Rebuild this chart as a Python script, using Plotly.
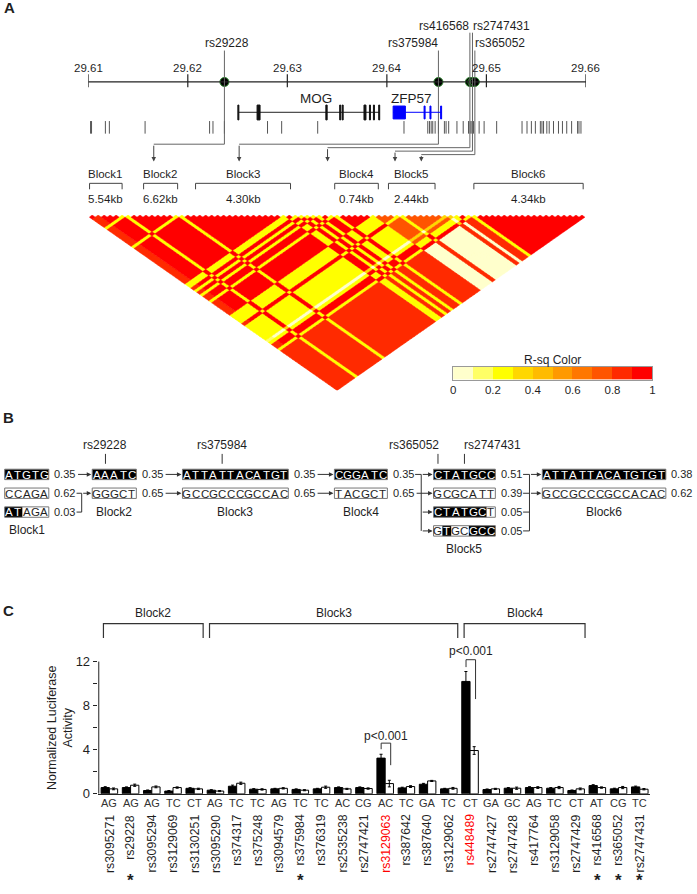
import plotly.graph_objects as go

W, H = 697, 894
FONT = "Liberation Sans, Arial, sans-serif"
INK = "#1f1f1f"
LINE = "#555555"

# ---------------- panel A: region map + LD ----------------
SCALE_TICKS = [29.61, 29.62, 29.63, 29.64, 29.65, 29.66]
KEY_SNPS = ["rs29228", "rs375984", "rs416568", "rs2747431", "rs365052"]
KEY_POS = [29.62368, 29.64518, 29.64834, 29.64860, 29.64884]
KEY_LD_COL = [10.8, 25.1, 39.9, 51.2, 55.6]

SNP_TICKS = [29.61023, 29.61033, 29.61172, 29.61212, 29.61571, 29.62219, 29.62253, 29.62368,
             29.62801, 29.62943, 29.63305, 29.64172, 29.64411, 29.64428, 29.64445, 29.64461,
             29.64485, 29.64518, 29.64578, 29.64595, 29.64621, 29.64704, 29.64767, 29.64820,
             29.64837, 29.64854, 29.64870, 29.64927, 29.64977, 29.65103, 29.65358, 29.65408,
             29.65452, 29.65492, 29.65542, 29.65558, 29.65574, 29.65607, 29.65631, 29.65674,
             29.65724, 29.65764, 29.65807, 29.65856, 29.65916, 29.65930, 29.65950]

MOG_SPAN = [29.62508, 29.63923]
MOG_EXONS = [(29.62503, 29.62513), (29.62696, 29.62726), (29.63387, 29.63400),
             (29.63526, 29.63536), (29.63551, 29.63561), (29.63770, 29.63790),
             (29.63825, 29.63835), (29.63865, 29.63875), (29.63918, 29.63928)]
ZFP57_SPAN = [29.64063, 29.64545]
ZFP57_EXONS = [(29.64063, 29.64186), (29.64374, 29.64384), (29.64433, 29.64443),
               (29.64540, 29.64550)]
GENES = ["MOG", "ZFP57"]
GENE_LABEL_POS = [29.63292, 29.64246]

LD_BLOCKS = ["Block1", "Block2", "Block3", "Block4", "Block5", "Block6"]
LD_BLOCK_KB = ["5.54kb", "6.62kb", "4.30kb", "0.74kb", "2.44kb", "4.34kb"]
LD_BLOCK_SPAN = [(0.05, 5.5), (9.1, 14.8), (17.8, 33.7), (41.1, 48.4), (50.1, 57.9), (64.4, 82.7)]

# haplotype group of each SNP in the LD plot, and r-squared between groups
LD_GROUPS = ("AA" "MMMM" "Y" "MMMMMMMM" "Y" "MMMMMMMMMMMMMMMMM" "YYMY" "M" "Y" "MM" "Y"
             "MMMMMM" "ZZZZMZZZZZZZ" "P" "Z" "MM" "Y" "NNNNNNNNNNNNNNNNNNN")
R2_PAIRS = {"AA": 1.0, "AM": 0.85, "AN": 0.85, "AP": 0.1, "AY": 0.2, "AZ": 0.25,
            "MM": 1.0, "MN": 0.85, "MP": 0.05, "MY": 0.25, "MZ": 0.25,
            "NN": 1.0, "NP": 0.85, "NY": 0.25, "NZ": 0.05,
            "PP": 1.0, "PY": 0.3, "PZ": 0.3,
            "YY": 1.0, "YZ": 0.9, "ZZ": 0.75}

RSQ_KEY = [0.05, 0.15, 0.25, 0.35, 0.45, 0.55, 0.65, 0.75, 0.85, 0.95]
RSQ_COLORS = ["#ffffcc", "#ffff66", "#ffff00", "#ffd700", "#ffbb00",
              "#ff9900", "#ff7700", "#ff5500", "#ff2a00", "#ff0000"]

# ---------------- panel B: haplotypes ----------------
HAP_BLOCKS = ["Block1", "Block2", "Block3", "Block4", "Block5", "Block6"]
HAPS = [["ATGTG", "CCAGA", "ATAGA"],
        ["AAATC", "GGGCT"],
        ["ATTATTACATGT", "GCCGCCCGCCAC"],
        ["CGGATC", "TACGCT"],
        ["CTATGCC", "GCGCATT", "CTATGCT", "GTGCGCC"],
        ["ATTATTACATGTGT", "GCCGCCCGCCACAC"]]
HAP_DARK = [["11111", "00000", "11000"],
            ["11111", "00000"],
            ["111111111111", "000000000000"],
            ["111111", "000000"],
            ["1111111", "0000000", "1111110", "0100111"],
            ["11111111111111", "00000000000000"]]
HAP_FREQ = [[0.35, 0.62, 0.03], [0.35, 0.65], [0.35, 0.65], [0.35, 0.65],
            [0.51, 0.39, 0.05, 0.05], [0.38, 0.62]]
HAP_LINKS = [[(0, 0), (1, 1), (2, 1)],
             [(0, 0), (1, 1)],
             [(0, 0), (1, 1)],
             [(0, 0), (1, 1), (0, 2), (0, 3)],
             [(0, 0), (0, 1), (1, 1), (2, 1), (3, 1)]]
HAP_TAGS = [("rs29228", 1, 1), ("rs375984", 2, 4), ("rs365052", 4, 0), ("rs2747431", 4, 3)]

# ---------------- panel C: luciferase ----------------
LUC_SNPS = ["rs3095271", "rs29228", "rs3095294", "rs3129069", "rs3130251", "rs3095290",
            "rs374317", "rs375248", "rs3094579", "rs375984", "rs376319", "rs2535238",
            "rs2747421", "rs3129063", "rs387642", "rs387640", "rs3129062", "rs448489",
            "rs2747427", "rs2747428", "rs417764", "rs3129058", "rs2747429", "rs416568",
            "rs365052", "rs2747431"]
LUC_ALLELES = ["AG", "AG", "AG", "TC", "CT", "AG", "TC", "TC", "AG", "TC", "TC", "AC", "CG",
               "AC", "TC", "GA", "TC", "CT", "GA", "GC", "AG", "TC", "CT", "AT", "CG", "TC"]
LUC_BLACK = [0.57, 0.57, 0.30, 0.25, 0.50, 0.33, 0.69, 0.42, 0.45, 0.40, 0.45, 0.57, 0.57,
             3.24, 0.54, 0.87, 0.45, 10.2, 0.39, 0.51, 0.57, 0.51, 0.30, 0.75, 0.45, 0.63]
LUC_WHITE = [0.45, 0.78, 0.63, 0.57, 0.45, 0.25, 0.96, 0.40, 0.50, 0.33, 0.60, 0.45, 0.48,
             0.93, 0.66, 1.17, 0.50, 3.93, 0.45, 0.51, 0.57, 0.57, 0.45, 0.57, 0.57, 0.42]
LUC_BLACK_ERR = [0.08, 0.06, 0.05, 0.05, 0.06, 0.05, 0.10, 0.05, 0.05, 0.05, 0.05, 0.06, 0.06,
                 0.35, 0.06, 0.08, 0.05, 0.90, 0.05, 0.06, 0.08, 0.06, 0.05, 0.08, 0.06, 0.07]
LUC_WHITE_ERR = [0.08, 0.10, 0.08, 0.06, 0.06, 0.05, 0.10, 0.06, 0.06, 0.05, 0.10, 0.05, 0.06,
                 0.30, 0.08, 0.05, 0.08, 0.35, 0.05, 0.10, 0.08, 0.10, 0.08, 0.06, 0.10, 0.06]
LUC_STAR = ["rs29228", "rs375984", "rs416568", "rs365052", "rs2747431"]
LUC_RED = ["rs3129063", "rs448489"]
LUC_BLOCKS = [("Block2", 0, 4), ("Block3", 5, 16), ("Block4", 17, 22)]
P_TESTS = [("rs3129063", "p<0.001"), ("rs448489", "p<0.001")]

# ---------------- geometry (pixels) ----------------
GX0, GX1 = 86, 588            # genomic scale
LX0, LX1, LY0, LY1 = 87, 587, 217, 394   # LD triangle
N = len(LD_GROUPS)
KEY_LABEL_Y = [43.5, 43.5, 26, 26, 43.5]
KEY_ANCHOR = ["center", "right", "right", "left", "left"]
KEY_LINE_TOP = [51, 51, 33, 33, 51]
KEY_ELBOW = [145.5, 145.5, 149, 152.5, 156]
HX0 = [1.7, 90, 181, 334.3, 434.3, 544]
HROW = [478.7, 497.7, 516.7, 535.7]
PITCH, BOXH = 8.9, 10.5
CX0, CSTEP, CY0, CUNIT = 107.3, 21.4, 801, 11.12
P_BRACKET = [(4.6, 4.05, 2.6, 5.25), (12.17, 11.5, 8.6, 13.0)]


def mb_px(v):
    return GX0 + (v - SCALE_TICKS[0]) / (SCALE_TICKS[-1] - SCALE_TICKS[0]) * (GX1 - GX0)


def ld_px(i):
    return LX0 + i / (N - 1) * (LX1 - LX0)


fig = go.Figure()


def text(x, y, s, size=12, anchor="center", xref="x", yref="y", color=INK, **kw):
    fig.add_annotation(x=x, y=y, xref=xref, yref=yref, text=s, showarrow=False,
                       font=dict(family=FONT, size=size, color=color),
                       xanchor=anchor, yanchor="middle", **kw)


def seg(x0, y0, x1, y1, color=LINE, width=1, xref="x", yref="y"):
    fig.add_shape(type="line", x0=x0, y0=y0, x1=x1, y1=y1, xref=xref, yref=yref,
                  line=dict(color=color, width=width))


def arrow(x, y, ax, ay, color="#333"):
    fig.add_annotation(x=x, y=y, ax=ax, ay=ay, xref="x", yref="y", axref="x", ayref="y",
                       text="", showarrow=True, arrowhead=2, arrowsize=0.9, arrowwidth=1,
                       arrowcolor=color, standoff=0)


# invisible canvas trace so the pixel axes exist
fig.add_trace(go.Scatter(x=[0, W], y=[0, H], mode="markers", marker=dict(opacity=0),
                         hoverinfo="skip", xaxis="x", yaxis="y"))

# ---------- panel A ----------
text(7, 8, "<b>A</b>", size=15)
seg(SCALE_TICKS[0], 82.7, SCALE_TICKS[-1], 82.7, color="#222", width=1.3, xref="x2")
for t in SCALE_TICKS:
    seg(t, 75, t, 88, color="#222", width=1.2, xref="x2")
    text(t, 68.3, f"{t:.2f}", size=11.5, xref="x2")

for name, pos, col, ly, anc, top, elb in zip(KEY_SNPS, KEY_POS, KEY_LD_COL, KEY_LABEL_Y,
                                            KEY_ANCHOR, KEY_LINE_TOP, KEY_ELBOW):
    px = mb_px(pos)
    lx = px + {"center": 2.5, "right": 1.5, "left": -1.5}[anc]
    text(lx, ly, name, size=12, anchor=anc)
    seg(px, top, px, elb, color="#666")
    seg(px, elb, ld_px(col), elb, color="#666")
    arrow(ld_px(col), 163, ld_px(col), elb, color="#444")

fig.add_trace(go.Scatter(x=KEY_POS, y=[82.7] * len(KEY_POS), mode="markers",
                         marker=dict(color="black", size=9, line=dict(color="#2e8b2e", width=1)),
                         hoverinfo="skip", xaxis="x2", yaxis="y"))
fig.add_trace(go.Scatter(x=SNP_TICKS, y=[128.5] * len(SNP_TICKS), mode="markers",
                         marker=dict(symbol="line-ns", size=9, line=dict(color="#555", width=1)),
                         hoverinfo="skip", xaxis="x2", yaxis="y"))

seg(MOG_SPAN[0], 113.3, MOG_SPAN[1], 113.3, color="#222", width=1, xref="x2")
for a, b in MOG_EXONS:
    fig.add_shape(type="rect", x0=a, x1=b, y0=106, y1=121, xref="x2", yref="y",
                  fillcolor="#111", line=dict(color="#111", width=1))
seg(ZFP57_SPAN[0], 113.3, ZFP57_SPAN[1], 113.3, color="#0000ff", width=1, xref="x2")
for a, b in ZFP57_EXONS:
    fig.add_shape(type="rect", x0=a, x1=b, y0=107, y1=120, xref="x2", yref="y",
                  fillcolor="#0000ff", line=dict(color="#0000ff", width=1))
for g, p in zip(GENES, GENE_LABEL_POS):
    text(p, 99.5, g, size=13.5, xref="x2")

for name, kb, (a, b) in zip(LD_BLOCKS, LD_BLOCK_KB, LD_BLOCK_SPAN):
    xa, xb = ld_px(a), ld_px(b)
    fig.add_shape(type="path", path=f"M{xa},191 L{xa},185 L{xb},185 L{xb},191",
                  xref="x", yref="y", line=dict(color="#444", width=1))
    text((xa + xb) / 2, 175.5, name, size=11.5)
    text((xa + xb) / 2, 200.5, kb, size=11.5)

# LD triangle: one diamond per SNP pair, grouped by colour bin
polys = {k: ([], []) for k in range(len(RSQ_COLORS))}
for i in range(N):
    for j in range(i + 1, N):
        r2 = R2_PAIRS["".join(sorted(LD_GROUPS[i] + LD_GROUPS[j]))]
        k = min(int(r2 * 10 + 1e-9), len(RSQ_COLORS) - 1)
        c, d = (i + j) / 2, -(j - i) / 2
        xs, ys = polys[k]
        xs += [c - 0.5, c, c + 0.5, c, c - 0.5, None]
        ys += [d, d + 0.5, d, d - 0.5, d, None]
for k, (xs, ys) in polys.items():
    if xs:
        fig.add_trace(go.Scatter(x=xs, y=ys, mode="lines", fill="toself",
                                 fillcolor=RSQ_COLORS[k],
                                 line=dict(color=RSQ_COLORS[k], width=0.5),
                                 hoverinfo="skip", xaxis="x3", yaxis="y3"))

# colour key
scale = []
for k, c in enumerate(RSQ_COLORS):
    scale += [[k / len(RSQ_COLORS), c], [(k + 1) / len(RSQ_COLORS), c]]
fig.add_trace(go.Heatmap(z=[RSQ_KEY], x=RSQ_KEY, y=[0], colorscale=scale, zmin=0, zmax=1,
                         showscale=False, hoverinfo="skip", xaxis="x4", yaxis="y4"))
text(554.5, 363.3, "R-sq Color", size=12)

# ---------- panel B ----------
text(6, 421.7, "<b>B</b>", size=15)
for b, haps in enumerate(HAPS):
    x0 = HX0[b]
    for r, (seq, dark, fq) in enumerate(zip(haps, HAP_DARK[b], HAP_FREQ[b])):
        y = HROW[r]
        xe = x0 + PITCH * len(seq)
        k = 0
        while k < len(seq):
            if dark[k] == "1":
                m = k
                while m < len(seq) and dark[m] == "1":
                    m += 1
                fig.add_shape(type="rect", x0=x0 + k * PITCH, x1=x0 + m * PITCH,
                              y0=y - BOXH / 2, y1=y + BOXH / 2, xref="x", yref="y",
                              fillcolor="black", line=dict(width=0))
                k = m
            else:
                k += 1
        fig.add_shape(type="rect", x0=x0, x1=xe, y0=y - BOXH / 2, y1=y + BOXH / 2,
                      xref="x", yref="y", line=dict(color="#777", width=1))
        for k, ch in enumerate(seq):
            text(x0 + (k + 0.5) * PITCH, y + 0.3, ch, size=11.5,
                 color="white" if dark[k] == "1" else INK)
        text(xe + 3.5, y, f"{fq:.2f}", size=11, anchor="left")
    text((x0 + x0 + PITCH * len(haps[0])) / 2, HROW[len(haps) - 1] + 18.5,
         HAP_BLOCKS[b], size=12)

for b, links in enumerate(HAP_LINKS):
    tail = HX0[b] + PITCH * len(HAPS[b][0]) + 28
    head = HX0[b + 1] - 1
    bus = tail + 0.35 * (head - tail)
    cross = [p for p in links if p[0] != p[1]]
    bus_rows = {r for p in cross for r in p}
    if cross:
        seg(bus, HROW[min(bus_rows)], bus, HROW[max(bus_rows)], color="#333")
    for a, c in links:
        if a == c and a not in bus_rows:
            arrow(head, HROW[c], tail, HROW[a])
    for a in sorted({p[0] for p in links if p[0] in bus_rows}):
        seg(tail, HROW[a], bus, HROW[a], color="#333")
    for c in sorted({p[1] for p in links if p[1] in bus_rows or p[0] in bus_rows}):
        arrow(head, HROW[c], bus, HROW[c])

for name, b, pos in HAP_TAGS:
    tx = HX0[b] + (pos + 0.5) * PITCH
    seg(tx, 458, tx, 468, color="#333")
    anc = "center" if b < 4 else ("right" if pos == 0 else "left")
    text(tx + {"center": 0, "right": 3, "left": -2}[anc], 449, name, size=12, anchor=anc)

# ---------- panel C ----------
text(6, 616, "<b>C</b>", size=15)
idx = list(range(len(LUC_SNPS)))
fig.add_trace(go.Bar(x=idx, y=LUC_BLACK, marker=dict(color="black", line=dict(color="black", width=1)),
                     error_y=dict(type="data", array=LUC_BLACK_ERR, color="black", thickness=1, width=1.5),
                     xaxis="x5", yaxis="y5", hoverinfo="skip"))
fig.add_trace(go.Bar(x=idx, y=LUC_WHITE, marker=dict(color="white", line=dict(color="black", width=1)),
                     error_y=dict(type="data", array=LUC_WHITE_ERR, color="black", thickness=1, width=1.5),
                     xaxis="x5", yaxis="y5", hoverinfo="skip"))
fig.add_shape(type="line", x0=-0.5, x1=-0.5, y0=0, y1=12, xref="x5", yref="y5",
              line=dict(color="#222", width=1))

for k, (snp, al) in enumerate(zip(LUC_SNPS, LUC_ALLELES)):
    text(k, 810.5, al, size=11, xref="x5", color="#333")
    fig.add_annotation(x=k, y=820, xref="x5", yref="y", text=snp, textangle=-90,
                       showarrow=False, xanchor="center", yanchor="top",
                       font=dict(family=FONT, size=12.3,
                                 color="#ff0000" if snp in LUC_RED else INK))
    if snp in LUC_STAR:
        text(k, 888, "<b>*</b>", size=17, xref="x5")

for name, a, b in LUC_BLOCKS:
    fig.add_shape(type="path", path=f"M{a - 0.28},14.15 L{a - 0.28},15.45 L{b + 0.42},15.45 L{b + 0.42},14.15",
                  xref="x5", yref="y5", line=dict(color="#333", width=1.2))
    text((a - 0.28 + b + 0.42) / 2, 16.4, name, size=12, xref="x5", yref="y5")

for (snp, lab), (top, lb, rb, ty) in zip(P_TESTS, P_BRACKET):
    k = LUC_SNPS.index(snp)
    fig.add_shape(type="path", path=f"M{k - 0.19},{lb} L{k - 0.19},{top} L{k + 0.26},{top} L{k + 0.26},{rb}",
                  xref="x5", yref="y5", line=dict(color="#333", width=1))
    text(k + 0.03, ty, lab, size=12, xref="x5", yref="y5")

fig.add_annotation(x=58, y=735, xref="x", yref="y", text="Normalized Luciferase<br>Activity",
                   textangle=-90, showarrow=False, font=dict(family=FONT, size=12.5, color=INK))

# ---------- axes ----------
ytop17 = CY0 - 17 * CUNIT
fig.update_layout(
    width=W, height=H, margin=dict(l=0, r=0, t=0, b=0),
    paper_bgcolor="white", plot_bgcolor="rgba(0,0,0,0)", showlegend=False,
    barmode="group", bargap=0.22, bargroupgap=0,
    xaxis=dict(domain=[0, 1], range=[0, W], visible=False),
    yaxis=dict(domain=[0, 1], range=[H, 0], visible=False),
    xaxis2=dict(domain=[GX0 / W, GX1 / W], range=[SCALE_TICKS[0], SCALE_TICKS[-1]],
                anchor="y", visible=False),
    xaxis3=dict(domain=[LX0 / W, LX1 / W], range=[0, N - 1], anchor="y3", visible=False),
    yaxis3=dict(domain=[1 - LY1 / H, 1 - LY0 / H], range=[-N / 2, 0], anchor="x3", visible=False),
    xaxis4=dict(domain=[454 / W, 655 / W], range=[0, 1], anchor="y4",
                tickvals=[0, 0.2, 0.4, 0.6, 0.8, 1], ticktext=["0", "0.2", "0.4", "0.6", "0.8", "1"],
                ticks="", showline=True, mirror=True, linecolor="#999", linewidth=1,
                tickfont=dict(family=FONT, size=11.5, color=INK), showgrid=False, zeroline=False),
    yaxis4=dict(domain=[1 - 383 / H, 1 - 370 / H], range=[-0.5, 0.5], anchor="x4",
                showticklabels=False, ticks="", showline=True, mirror=True, linecolor="#999",
                showgrid=False, zeroline=False),
    xaxis5=dict(domain=[(CX0 - 0.55 * CSTEP) / W, (CX0 + 25.5 * CSTEP) / W],
                range=[-0.55, 25.5], anchor="y5", showticklabels=False, ticks="",
                showline=True, linecolor="#222", linewidth=1, showgrid=False, zeroline=False),
    yaxis5=dict(domain=[1 - CY0 / H, 1 - ytop17 / H], range=[0, 17], anchor="x5",
                tickvals=[0, 4, 8, 12], ticks="outside", ticklen=4, tickcolor="#222",
                minor=dict(tickvals=[2, 6, 10], ticks="outside", ticklen=4, tickcolor="#222"),
                tickfont=dict(family=FONT, size=13, color=INK), showline=False,
                showgrid=False, zeroline=False),
)

fig.write_html("out.html", config={"displayModeBar": False, "staticPlot": True},
               post_script="document.body.style.margin='0';document.body.style.overflow='hidden';")
